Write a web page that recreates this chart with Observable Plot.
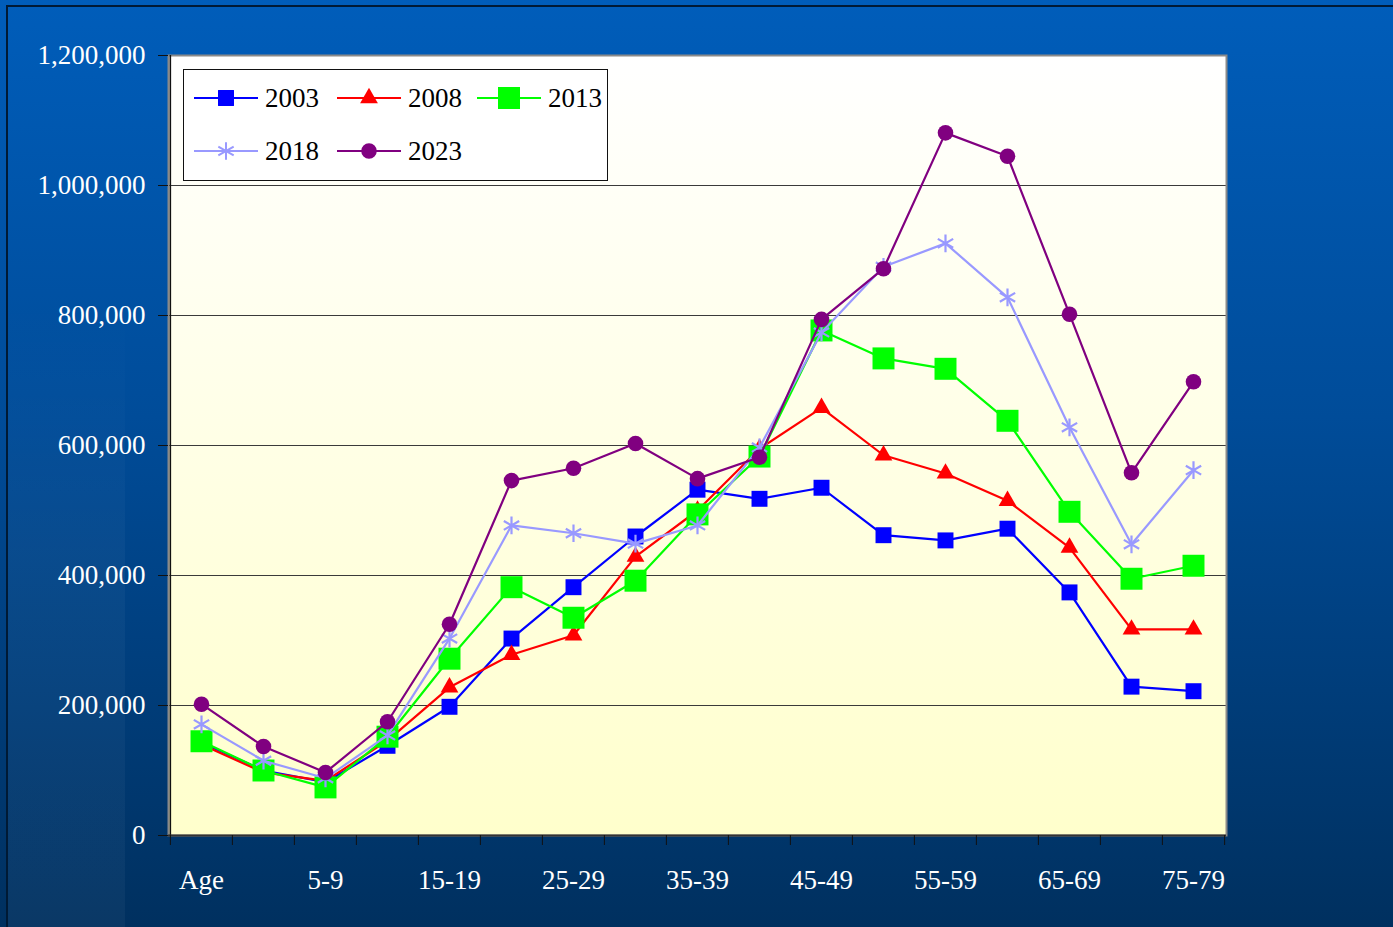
<!DOCTYPE html>
<html>
<head>
<meta charset="utf-8">
<script src="https://cdn.jsdelivr.net/npm/d3@7"></script>
<script src="https://cdn.jsdelivr.net/npm/@observablehq/plot@0.6"></script>
<style>
  html, body { margin: 0; padding: 0; }
  body {
    width: 1393px; height: 927px; overflow: hidden; position: relative;
    background: linear-gradient(to bottom, #005dba 0%, #004c99 45%, #00305f 100%);
    font-family: "Liberation Serif", "Times New Roman", serif;
  }
  #strip { position: absolute; left: 8px; top: 300px; width: 117px; height: 627px;
    background: linear-gradient(to bottom, rgba(255,255,255,0) 0%, rgba(255,255,255,0.035) 40%, rgba(255,255,255,0.04) 100%); }
  #border { position: absolute; left: 6px; top: 5px; width: 1400px; height: 930px;
    border-top: 2px solid #001a35; border-left: 2px solid #001a35; }
  #chart { position: absolute; left: 0; top: 0; }
  #legend { position: absolute; left: 183px; top: 69px; }
</style>
</head>
<body>
<div id="strip"></div>
<div id="border"></div>
<div id="chart"></div>
<div id="legend"></div>
<script>
// ---- data ----
const ages = ["Age","0-4","5-9","10-14","15-19","20-24","25-29","30-34","35-39","40-44","45-49","50-54","55-59","60-64","65-69","70-74","75-79"];
const shownAgeLabels = ["Age","5-9","15-19","25-29","35-39","45-49","55-59","65-69","75-79"];
const years = ["2003","2008","2013","2018","2023"];
const v2003 = [143000,100000,82000,138000,198000,303000,382000,460000,532000,518000,535000,462000,454000,472000,374000,229000,222000];
const v2008 = [140000,97000,84000,146000,228000,278000,308000,429000,500000,595000,658000,585000,557000,515000,443000,317000,317000];
const v2013 = [145000,100000,74000,152000,272000,382000,335000,392000,494000,583000,777000,734000,718000,638000,498000,395000,415000];
const v2018 = [171000,115000,88000,154000,303000,477000,465000,449000,477000,597000,774000,875000,911000,828000,628000,448000,562000];
const v2023 = [202000,137000,97000,175000,325000,546000,565000,603000,549000,582000,794000,872000,1081000,1045000,802000,558000,698000];
const yTicks = [0,200000,400000,600000,800000,1000000,1200000];

// ---- styles ----
const seriesStyle = {
  "2003": {values: v2003, color: "#0000ff", symbol: "square",   r: 9.0},
  "2008": {values: v2008, color: "#ff0000", symbol: "triangle", r: 6.6},
  "2013": {values: v2013, color: "#00ff00", symbol: "square",   r: 12.4},
  "2018": {values: v2018, color: "#9999ff", symbol: "asterisk", r: 8.4},
  "2023": {values: v2023, color: "#800080", symbol: "circle",   r: 7.8}
};

const W = 1393, H = 927;
const mL = 168, mR = 167, mT = 55, mB = 92;
const step = (W - mL - mR) / ages.length;

const seriesMarks = [];
for (const y of years) {
  const s = seriesStyle[y];
  const data = ages.map((a, i) => ({age: a, value: s.values[i]}));
  seriesMarks.push(Plot.line(data, {x: "age", y: "value", stroke: s.color, strokeWidth: 2.2}));
  if (s.symbol === "asterisk") {
    seriesMarks.push(Plot.dot(data, {x: "age", y: "value", symbol: "asterisk", r: s.r, stroke: s.color, strokeWidth: 2.2}));
  } else {
    seriesMarks.push(Plot.dot(data, {x: "age", y: "value", symbol: s.symbol, r: s.r, fill: s.color, stroke: "none"}));
  }
}

const chart = Plot.plot({
  width: W, height: H,
  marginLeft: mL, marginRight: mR, marginTop: mT, marginBottom: mB,
  style: {background: "transparent", fontFamily: "'Liberation Serif', 'Times New Roman', serif"},
  x: {type: "point", domain: ages, padding: 0.5, axis: null, label: null},
  y: {domain: [0, 1200000], axis: null, label: null},
  marks: [
    Plot.frame({fill: "url(#plotBg)", stroke: "none"}),
    Plot.ruleY(yTicks.filter(d => d > 0), {stroke: "#3a3a3a", strokeWidth: 1}),
    Plot.frame({stroke: "#8a8a8a", strokeWidth: 2}),
    Plot.ruleX([ages[0]], {dx: -step / 2, stroke: "#111", strokeWidth: 1.5}),
    Plot.ruleY([0], {stroke: "#333", strokeWidth: 2}),
    // y ticks and labels
    Plot.axisY({ticks: yTicks, tickSize: 10, tickFormat: () => "", color: "#111", label: null}),
    Plot.axisY({ticks: yTicks, tickSize: 0, tickPadding: 23, tickFormat: d3.format(","), color: "white", fontSize: 27, label: null}),
    // x boundary ticks
    Plot.axisX({ticks: ages, tickSize: 10, tickFormat: () => "", dx: -step / 2, color: "#111", label: null}),
    Plot.axisX({ticks: [ages[ages.length - 1]], tickSize: 10, tickFormat: () => "", dx: step / 2, color: "#111", label: null}),
    Plot.axisX({ticks: shownAgeLabels, tickSize: 0, tickPadding: 34, color: "white", fontSize: 27, label: null}),
    ...seriesMarks
  ]
});

// gradient for the plotting area
const svg = d3.select(chart);
const defs = svg.insert("defs", ":first-child");
const grad = defs.append("linearGradient").attr("id", "plotBg")
  .attr("x1", 0).attr("y1", 0).attr("x2", 0).attr("y2", 1);
grad.append("stop").attr("offset", "0%").attr("stop-color", "#ffffff");
grad.append("stop").attr("offset", "100%").attr("stop-color", "#ffffcc");
document.getElementById("chart").appendChild(chart);

// ---- legend ----
const legW = 425, legH = 112;
const lsvg = d3.select("#legend").append("svg")
  .attr("width", legW).attr("height", legH)
  .style("display", "block");
lsvg.append("rect").attr("x", 0.5).attr("y", 0.5).attr("width", legW - 1).attr("height", legH - 1)
  .attr("fill", "white").attr("stroke", "#111").attr("stroke-width", 1);
const legendPos = [
  {year: "2003", x: 11, y: 29},
  {year: "2008", x: 154, y: 29},
  {year: "2013", x: 294, y: 29},
  {year: "2018", x: 11, y: 82},
  {year: "2023", x: 154, y: 82}
];
const symMap = {square: d3.symbolSquare, triangle: d3.symbolTriangle, asterisk: d3.symbolAsterisk, circle: d3.symbolCircle};
for (const p of legendPos) {
  const s = seriesStyle[p.year];
  const g = lsvg.append("g").attr("transform", `translate(${p.x},${p.y})`);
  g.append("line").attr("x1", 0).attr("x2", 64).attr("y1", 0).attr("y2", 0)
    .attr("stroke", s.color).attr("stroke-width", 2);
  const path = d3.symbol(symMap[s.symbol], Math.PI * s.r * s.r)();
  const m = g.append("path").attr("d", path).attr("transform", "translate(32,0)");
  if (s.symbol === "asterisk") m.attr("fill", "none").attr("stroke", s.color).attr("stroke-width", 2);
  else m.attr("fill", s.color);
  g.append("text").attr("x", 71).attr("y", 0).attr("dy", "0.35em")
    .attr("font-family", "'Liberation Serif', 'Times New Roman', serif")
    .attr("font-size", 27).attr("fill", "#000").text(p.year);
}
</script>
</body>
</html>
